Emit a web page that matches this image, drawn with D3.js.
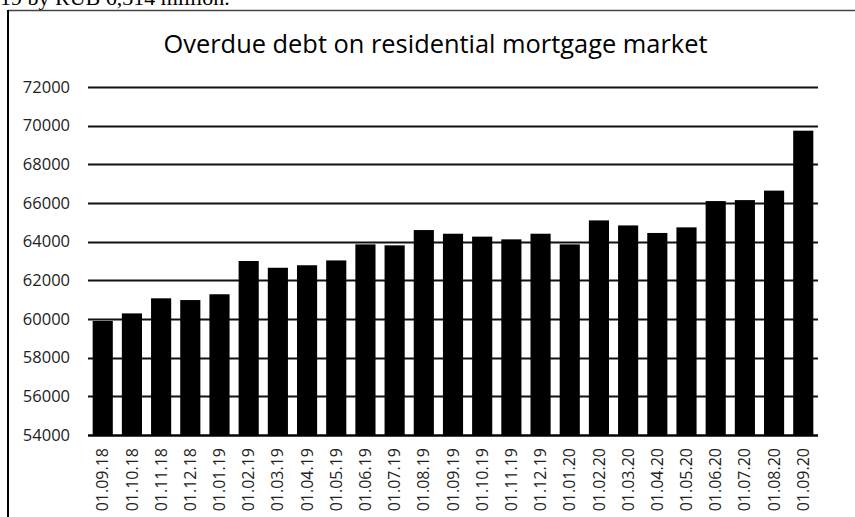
<!DOCTYPE html>
<html>
<head>
<meta charset="utf-8">
<script src="https://cdn.jsdelivr.net/npm/d3@7"></script>
<style>
  body { margin: 0; background: #fff; }
  svg { display: block; }
</style>
</head>
<body>
<div id="graph"></div>
<script>
const dates = [
  "01.09.18", "01.10.18", "01.11.18", "01.12.18", "01.01.19", "01.02.19",
  "01.03.19", "01.04.19", "01.05.19", "01.06.19", "01.07.19", "01.08.19",
  "01.09.19", "01.10.19", "01.11.19", "01.12.19", "01.01.20", "01.02.20",
  "01.03.20", "01.04.20", "01.05.20", "01.06.20", "01.07.20", "01.08.20",
  "01.09.20"
];

const overdue = [
  59900, 60290, 61070, 60980, 61280, 63000,
  62650, 62780, 63030, 63860, 63810, 64600,
  64410, 64260, 64120, 64410, 63860, 65100,
  64840, 64450, 64740, 66100, 66150, 66640,
  69740
];

const yTicks = [54000, 56000, 58000, 60000, 62000, 64000, 66000, 68000, 70000, 72000];

const title = "Overdue debt on residential mortgage market";
const docText = "19 by RUB 6,314 million.";

var W = 855, H = 517;
var margin = {top: 87, right: 37, bottom: 82, left: 88},
    width = W - margin.left - margin.right,
    height = H - margin.top - margin.bottom;

var root = d3.select("#graph").append("svg")
    .attr("width", W)
    .attr("height", H);

// piece of the surrounding document text, cut off at the top
root.append("text")
  .attr("x", 0)
  .attr("y", 5)
  .style("font-family", "Liberation Serif")
  .style("font-size", "22px")
  .style("fill", "#000")
  .text(docText);

// chart frame (left and top edges visible)
root.append("line")
  .attr("x1", 8).attr("y1", 10.5)
  .attr("x2", W).attr("y2", 10.5)
  .attr("stroke", "#444").attr("stroke-width", 1.5);
root.append("line")
  .attr("x1", 8).attr("y1", 10)
  .attr("x2", 8).attr("y2", H)
  .attr("stroke", "#000").attr("stroke-width", 2);

root.append("text")
  .attr("x", 435.5)
  .attr("y", 53)
  .attr("text-anchor", "middle")
  .style("font-family", "Open Sans")
  .style("font-size", "25.4px")
  .style("fill", "#000")
  .text(title);

var svg = root.append("g")
    .attr("transform", "translate(" + margin.left + "," + margin.top + ")");

var x = d3.scaleBand()
    .domain(dates)
    .range([0, width])
    .paddingInner(0.31)
    .paddingOuter(0.16);

var y = d3.scaleLinear()
    .domain([54000, 72000])
    .range([height, 0]);

// gridlines
svg.selectAll(".grid")
  .data(yTicks)
  .enter().append("line")
  .attr("class", "grid")
  .attr("x1", 0)
  .attr("x2", width)
  .attr("y1", function(d) { return Math.round(y(d)) + 0.5; })
  .attr("y2", function(d) { return Math.round(y(d)) + 0.5; })
  .attr("stroke", "#111")
  .attr("stroke-width", 2);

// y labels
svg.selectAll(".ylab")
  .data(yTicks)
  .enter().append("text")
  .attr("class", "ylab")
  .attr("x", -18)
  .attr("y", function(d) { return y(d); })
  .attr("dy", "0.35em")
  .attr("text-anchor", "end")
  .style("font-family", "Open Sans")
  .style("font-size", "16.5px")
  .style("fill", "#222")
  .text(function(d) { return d; });

// bars
svg.selectAll(".bar")
  .data(overdue)
  .enter().append("rect")
  .attr("class", "bar")
  .attr("x", function(d, i) { return x(dates[i]); })
  .attr("width", x.bandwidth())
  .attr("y", function(d) { return y(d); })
  .attr("height", function(d) { return height - y(d); })
  .attr("fill", "#000");

// x axis line
svg.append("line")
  .attr("x1", 0).attr("x2", width)
  .attr("y1", height + 0.5).attr("y2", height + 0.5)
  .attr("stroke", "#000").attr("stroke-width", 2);

// x labels, rotated
svg.selectAll(".xlab")
  .data(dates)
  .enter().append("text")
  .attr("class", "xlab")
  .attr("transform", function(d) {
    return "translate(" + (x(d) + x.bandwidth() / 2) + "," + (height + 13) + ") rotate(-90)";
  })
  .attr("dy", "0.35em")
  .attr("text-anchor", "end")
  .style("font-family", "Open Sans")
  .style("font-size", "16px")
  .style("fill", "#222")
  .text(function(d) { return d; });
</script>
</body>
</html>
